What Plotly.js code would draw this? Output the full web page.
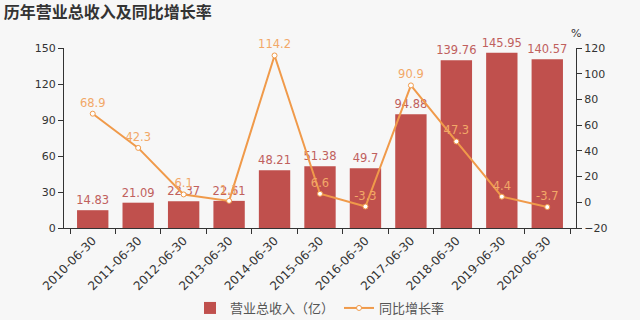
<!DOCTYPE html>
<html><head><meta charset="utf-8">
<script src="https://cdn.plot.ly/plotly-3.0.1.min.js"></script>
<style>html,body{margin:0;padding:0;background:#f7f7f7;}#chart{width:640px;height:320px;}</style>
</head><body><div id="chart"></div>
<script>
const categories = ["2010-06-30","2011-06-30","2012-06-30","2013-06-30","2014-06-30","2015-06-30","2016-06-30","2017-06-30","2018-06-30","2019-06-30","2020-06-30"];
const revenue = [14.83, 21.09, 22.37, 22.61, 48.21, 51.38, 49.7, 94.88, 139.76, 145.95, 140.57];
const growth = [68.9, 42.3, 6.1, 1.1, 114.2, 6.6, -3.3, 90.9, 47.3, 4.4, -3.7];
const leftTicks = [0, 30, 60, 90, 120, 150];
const rightTicks = [-20, 0, 20, 40, 60, 80, 100, 120];

const FONT = "DejaVu Sans, Noto Sans CJK SC, sans-serif";
const barColor = "#c0504d";
const lineColor = "#f09a4a";

const traces = [
  {
    type: "bar", x: categories, y: revenue, name: "营业总收入（亿）",
    marker: {color: barColor},
    text: revenue.map(String), textposition: "outside", cliponaxis: false,
    constraintext: "none",
    textfont: {family: FONT, size: 11.5, color: "#c0605d"},
    hoverinfo: "none"
  },
  {
    type: "scatter", x: categories, y: growth, yaxis: "y2", name: "同比增长率",
    mode: "lines+markers+text",
    line: {color: lineColor, width: 2},
    marker: {size: 5, color: "#ffffff", line: {color: lineColor, width: 1}},
    text: growth.map(String), textposition: "top center", cliponaxis: false,
    textfont: {family: FONT, size: 11.5, color: "#f2a868"},
    hoverinfo: "none"
  }
];

const layout = {
  width: 640, height: 320,
  paper_bgcolor: "#f7f7f7", plot_bgcolor: "#f7f7f7",
  margin: {l: 64, r: 64, t: 48, b: 92},
  font: {family: FONT, size: 11, color: "#333"},
  showlegend: true,
  bargap: 0.31,
  title: {text: "<b>历年营业总收入及同比增长率</b>", x: 0.006, xanchor: "left", y: 0.962, yanchor: "middle",
          font: {family: "Noto Sans CJK SC, sans-serif", size: 16, color: "#333"}},
  xaxis: {
    type: "category", tickangle: -45, tickson: "boundaries", automargin: false,
    ticks: "outside", ticklen: 5, tickcolor: "#333",
    showline: true, linecolor: "#333", linewidth: 1,
    showgrid: false, zeroline: false,
    tickfont: {family: FONT, size: 12, color: "#333"}
  },
  yaxis: {
    range: [0, 150], tickvals: leftTicks, ticks: "outside", ticklen: 5, tickcolor: "#333",
    showline: true, linecolor: "#333", showgrid: false, zeroline: false, automargin: false,
    tickfont: {family: FONT, size: 11, color: "#333"}
  },
  yaxis2: {
    overlaying: "y", side: "right", range: [-20, 120], tickvals: rightTicks,
    ticks: "outside", ticklen: 5, tickcolor: "#333", automargin: false,
    showline: true, linecolor: "#333", showgrid: false, zeroline: false,
    tickfont: {family: FONT, size: 11, color: "#333"}
  },
  legend: {
    orientation: "h", x: 0.5, xanchor: "center", xref: "container",
    y: 0.0375, yanchor: "middle", yref: "container",
    font: {family: "Noto Sans CJK SC, sans-serif", size: 13, color: "#555"},
    bgcolor: "rgba(0,0,0,0)"
  },
  annotations: [
    {text: "%", xref: "paper", yref: "paper", x: 1, y: 1.08, xanchor: "center", yanchor: "middle",
     showarrow: false, font: {family: FONT, size: 11, color: "#333"}}
  ]
};

Plotly.newPlot("chart", traces, layout, {staticPlot: true, displayModeBar: false});
</script></body></html>
